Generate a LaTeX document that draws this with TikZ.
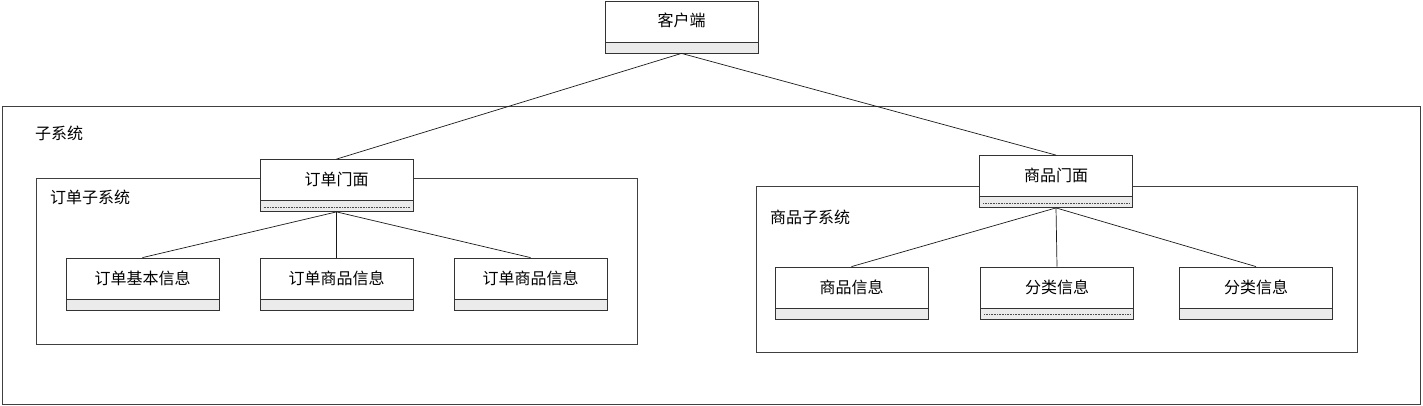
\documentclass[tikz,border=0pt]{standalone}
\usepackage{fontspec}
\setmainfont{Noto Sans CJK SC}
\usepackage{tikz}

\begin{document}
\begin{tikzpicture}[x=1pt,y=-1pt]
  \def\w{153pt}
  \tikzset{frame/.style={draw=black!75,line width=0.8pt,inner sep=0pt}}
  \tikzset{framelabel/.style={anchor=west,inner sep=0pt,font=\fontsize{16}{18}\selectfont}}
  \tikzset{cls/.style={draw=black!80,fill=white,line width=0.8pt,minimum width=\w,minimum height=52pt,inner sep=0pt,
      text height=11pt,text depth=11pt,font=\fontsize{16}{18}\selectfont,
      path picture={\fill[black!8] ([yshift=11pt]path picture bounding box.south west) rectangle (path picture bounding box.south east);
        \draw[black!80,line width=0.8pt] ([yshift=11pt]path picture bounding box.south west) -- ([yshift=11pt]path picture bounding box.south east);}}}
  \tikzset{link/.style={draw=black!90,line width=0.7pt}}
  \tikzset{dots/.style={densely dotted,black!70,line width=0.6pt}}
  \useasboundingbox (0,0) rectangle (1423,406);
  % frames
  \node[frame,minimum width=1418pt,minimum height=298pt] (subsys) at (711,255) {};
  \node[frame,minimum width=601pt,minimum height=166pt] (ordersys) at (336.5,261) {};
  \node[frame,minimum width=601pt,minimum height=166pt] (goodssys) at (1056.5,269) {};
  \node[framelabel] (subname) at (35,133) {子系统};
  \node[framelabel] (ordername) at (50,197) {订单子系统};
  \node[framelabel] (goodsname) at (770,217) {商品子系统};
  % classes
  \node[cls] (client) at (681.5,27) {客户端};
  \node[cls] (ofacade) at (336.5,185.5) {订单门面};
  \node[cls] (obase) at (142.5,284) {订单基本信息};
  \node[cls] (ogoods) at (336.5,284) {订单商品信息};
  \node[cls] (ogoods2) at (530.5,284) {订单商品信息};
  \node[cls] (gfacade) at (1056,181.5) {商品门面};
  \node[cls] (ginfo) at (851.5,293) {商品信息};
  \node[cls] (gcat) at (1057,293) {分类信息};
  \node[cls] (gcat2) at (1256,293) {分类信息};
  \draw[dots] ([xshift=4pt,yshift=5pt]ofacade.south west) -- ([xshift=-4pt,yshift=5pt]ofacade.south east);
  \draw[dots] ([xshift=4pt,yshift=5pt]gfacade.south west) -- ([xshift=-4pt,yshift=5pt]gfacade.south east);
  \draw[dots] ([xshift=4pt,yshift=5pt]gcat.south west) -- ([xshift=-4pt,yshift=5pt]gcat.south east);
  % links
  \draw[link] (client.south) -- (ofacade.north);
  \draw[link] (client.south) -- (gfacade.north);
  \foreach \n in {obase,ogoods,ogoods2}
    \draw[link] (ofacade.south) -- (\n.north);
  \foreach \n in {ginfo,gcat,gcat2}
    \draw[link] (gfacade.south) -- (\n.north);
\end{tikzpicture}
\end{document}
